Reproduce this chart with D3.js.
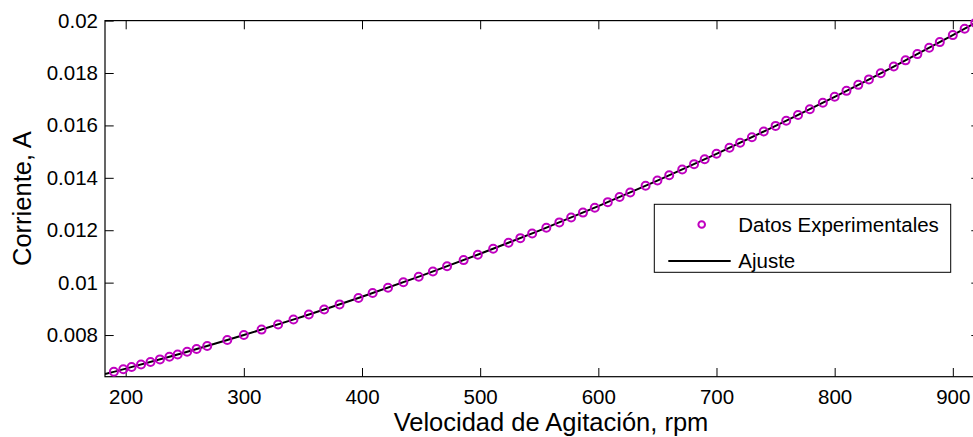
<!DOCTYPE html>
<html>
<head>
<meta charset="utf-8">
<script src="https://cdn.jsdelivr.net/npm/d3@7"></script>
<style>
  html, body { margin: 0; padding: 0; background: #fff; }
  svg { display: block; font-family: "Liberation Sans", Arial, Helvetica, sans-serif; }
</style>
</head>
<body>
<svg id="chart" width="973" height="437"></svg>
<script>
// Measured agitation speeds (rpm) and currents (A)
const rpm = [190, 198, 205, 213, 221, 229, 237, 244, 252, 260, 269, 286, 300, 315, 329, 342, 355, 368, 381,
  397, 409, 422, 435, 448, 460, 472, 486, 498, 511, 524, 534, 544, 556, 567, 577, 587, 597, 608, 618, 627,
  640, 650, 660, 671, 681, 690, 700, 711, 720, 730, 740, 750, 759, 769, 779, 790, 800, 810, 820, 829, 839,
  850, 860, 870, 880, 889, 900, 910, 919];
const corriente = [0.006599, 0.006694, 0.006777, 0.006874, 0.006972, 0.007071, 0.007171, 0.007260, 0.007362,
  0.007465, 0.007583, 0.007809, 0.008000, 0.008207, 0.008405, 0.008591, 0.008781, 0.008974, 0.009169,
  0.009414, 0.009601, 0.009806, 0.010014, 0.010225, 0.010423, 0.010623, 0.010860, 0.011065, 0.011291,
  0.011520, 0.011698, 0.011878, 0.012096, 0.012299, 0.012484, 0.012672, 0.012861, 0.013072, 0.013265,
  0.013440, 0.013696, 0.013895, 0.014095, 0.014318, 0.014522, 0.014708, 0.014916, 0.015146, 0.015337,
  0.015550, 0.015765, 0.015981, 0.016178, 0.016398, 0.016620, 0.016866, 0.017092, 0.017319, 0.017548,
  0.017756, 0.017989, 0.018247, 0.018483, 0.018721, 0.018961, 0.019179, 0.019446, 0.019692, 0.019914];

// Fitted curve sampled along the speed range
const ajusteRpm = [182.5, 200, 250, 300, 350, 400, 450, 500, 550, 600, 650, 700, 750, 800, 850, 900, 923];
const ajusteCorriente = [0.006512, 0.006718, 0.007336, 0.008000, 0.008708, 0.009460, 0.010258, 0.011100,
  0.011987, 0.012918, 0.013895, 0.014916, 0.015981, 0.017092, 0.018247, 0.019446, 0.020013];

// Axis ticks
const xTicks = [200, 300, 400, 500, 600, 700, 800, 900];
const xTickLabels = ["200", "300", "400", "500", "600", "700", "800", "900"];
const yTicks = [0.008, 0.010, 0.012, 0.014, 0.016, 0.018, 0.020];
const yTickLabels = ["0.008", "0.01", "0.012", "0.014", "0.016", "0.018", "0.02"];

const legendLabels = ["Datos Experimentales", "Ajuste"];
const xTitle = "Velocidad de Agitación, rpm";
const yTitle = "Corriente, A";

const markerColor = "#c000c0";

const svg = d3.select("#chart");
const plot = { left: 105, right: 980, top: 20.6, bottom: 376.7 };

const x = d3.scaleLinear().domain([182.5, 923]).range([plot.left, plot.right]);
const y = d3.scaleLinear().domain([0.00641, 0.020]).range([plot.bottom, plot.top]);

svg.append("defs").append("clipPath").attr("id", "plotClip")
  .append("rect")
  .attr("x", plot.left).attr("y", plot.top)
  .attr("width", plot.right - plot.left).attr("height", plot.bottom - plot.top);

const tickLen = 8.7;

// Bottom and top axes (ticks inward)
const xAxisBottom = d3.axisBottom(x).tickValues(xTicks).tickSizeInner(-tickLen).tickSizeOuter(0)
  .tickPadding(13).tickFormat((d, i) => xTickLabels[i]);
const gxb = svg.append("g").attr("transform", `translate(0,${plot.bottom})`).call(xAxisBottom);

const xAxisTop = d3.axisTop(x).tickValues(xTicks).tickSizeInner(-tickLen).tickSizeOuter(0).tickFormat("");
const gxt = svg.append("g").attr("transform", `translate(0,${plot.top})`).call(xAxisTop);

// Left and right axes
const yAxisLeft = d3.axisLeft(y).tickValues(yTicks).tickSizeInner(-tickLen).tickSizeOuter(0)
  .tickPadding(7).tickFormat((d, i) => yTickLabels[i]);
const gyl = svg.append("g").attr("transform", `translate(${plot.left},0)`).call(yAxisLeft);

const yAxisRight = d3.axisRight(y).tickValues(yTicks).tickSizeInner(-tickLen).tickSizeOuter(0).tickFormat("");
const gyr = svg.append("g").attr("transform", `translate(${plot.right},0)`).call(yAxisRight);

[gxb, gxt, gyl, gyr].forEach(g => {
  g.select(".domain").remove();
  g.selectAll(".tick line").attr("stroke", "#000").attr("stroke-width", 1);
  g.selectAll(".tick text").attr("fill", "#000").style("font-size", "20.5px")
    .style("font-family", '"Liberation Sans", Arial, sans-serif');
});

// Frame
svg.append("rect")
  .attr("x", plot.left).attr("y", plot.top)
  .attr("width", plot.right - plot.left).attr("height", plot.bottom - plot.top)
  .attr("fill", "none").attr("stroke", "#000").attr("stroke-width", 1.2);

const layer = svg.append("g").attr("clip-path", "url(#plotClip)");
const fitPts = ajusteRpm.map((v, i) => [v, ajusteCorriente[i]]);
const fitLine = d3.line().x(d => x(d[0])).y(d => y(d[1])).curve(d3.curveNatural);

// Experimental points
const dataPts = rpm.map((v, i) => [v, corriente[i]]);
svg.append("g").selectAll("circle")
  .data(dataPts)
  .join("circle")
  .attr("cx", d => x(d[0]))
  .attr("cy", d => y(d[1]))
  .attr("r", 4)
  .attr("fill", "none")
  .attr("stroke", markerColor)
  .attr("stroke-width", 2);

// Fitted curve on top of the markers
layer.append("path")
  .datum(fitPts)
  .attr("fill", "none")
  .attr("stroke", "#000")
  .attr("stroke-width", 2)
  .attr("d", fitLine);

// Axis titles
svg.append("text")
  .attr("x", (plot.left + 973) / 2 + 12)
  .attr("y", 431)
  .attr("text-anchor", "middle")
  .style("font-size", "25.5px")
  .text(xTitle);

svg.append("text")
  .attr("transform", `translate(31,${(plot.top + plot.bottom) / 2}) rotate(-90)`)
  .attr("text-anchor", "middle")
  .style("font-size", "25.5px")
  .text(yTitle);

// Legend
const lg = svg.append("g");
lg.append("rect")
  .attr("x", 654.3).attr("y", 204.3)
  .attr("width", 296.4).attr("height", 68)
  .attr("fill", "#fff").attr("stroke", "#000").attr("stroke-width", 1);
lg.append("circle")
  .attr("cx", 701.7).attr("cy", 224.5).attr("r", 3.3)
  .attr("fill", "none").attr("stroke", markerColor).attr("stroke-width", 2);
lg.append("line")
  .attr("x1", 668.3).attr("x2", 730.7).attr("y1", 261).attr("y2", 261)
  .attr("stroke", "#000").attr("stroke-width", 2);
lg.append("text").attr("x", 738.3).attr("y", 231.5).style("font-size", "20.5px").text(legendLabels[0]);
lg.append("text").attr("x", 738.3).attr("y", 267.5).style("font-size", "20.5px").text(legendLabels[1]);
</script>
</body>
</html>
